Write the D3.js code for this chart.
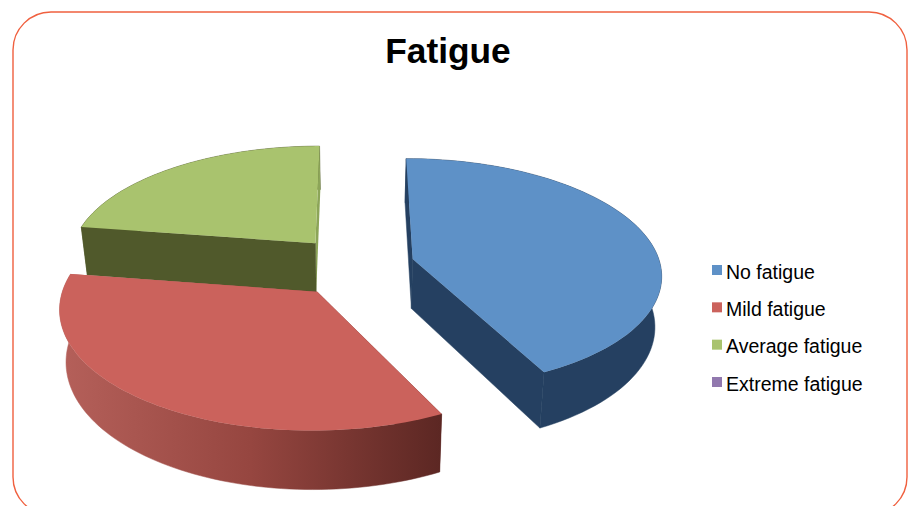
<!DOCTYPE html>
<html>
<head>
<meta charset="utf-8">
<script src="https://cdn.jsdelivr.net/npm/d3@7/dist/d3.min.js"></script>
<style>
  html, body { margin: 0; padding: 0; background: #fff; overflow: hidden; }
  text { font-family: "Liberation Sans", Arial, sans-serif; }
</style>
</head>
<body>
<div id="chart"></div>
<script>
// chart data
var categories = ["No fatigue", "Mild fatigue", "Average fatigue", "Extreme fatigue"];
var values = [42.6, 34.8, 22.6, 0];
var topColors = ["#5e91c7", "#cb625c", "#a9c36e", "#9178ae"];
var wallColors = ["#254061", "url(#redWall)", "#50592b", "#5b4a70"];
var title = "Fatigue";

var width = 909, height = 506;

// pie projection settings
var explodeX = 0.245,
    explodeZ = 0.27,
    persp = 0.125,
    wallHeight = 50,
    bottomShrink = 0.978;

var svg = d3.select("#chart").append("svg")
    .attr("width", width)
    .attr("height", height);

// slide frame
svg.append("rect")
    .attr("x", 13).attr("y", 12)
    .attr("width", 894).attr("height", 503)
    .attr("rx", 38).attr("ry", 38)
    .attr("fill", "none")
    .attr("stroke", "#f0603f")
    .attr("stroke-width", 1.4);

svg.append("text")
    .attr("x", 448).attr("y", 63)
    .attr("text-anchor", "middle")
    .style("font-size", "35.3px")
    .style("font-weight", "bold")
    .attr("fill", "#000")
    .text(title);

// gradient on the red outer wall
var grad = svg.append("defs").append("linearGradient")
    .attr("id", "redWall")
    .attr("gradientUnits", "userSpaceOnUse")
    .attr("x1", 60).attr("y1", 0).attr("x2", 441).attr("y2", 0);
grad.append("stop").attr("offset", "0%").attr("stop-color", "#b5605a");
grad.append("stop").attr("offset", "50%").attr("stop-color", "#964640");
grad.append("stop").attr("offset", "100%").attr("stop-color", "#5c2723");

// scales for the flattened disc, x across and z into the picture
var xScale = d3.scaleLinear().domain([-1, 1]).range([-248, 248]);
var zScale = d3.scaleLinear().domain([-1, 1]).range([114.5, -114.5]);
var cx = 354, cy = 266;

function project(gx, gz, bottom) {
    var f = 1 / (1 + persp * gz);
    var sx = xScale(gx) * f;
    var sy = zScale(gz) * f;
    if (bottom) {
        sx = sx * bottomShrink;
        sy = sy + wallHeight * f;
    }
    return [cx + sx, cy + sy];
}

var pie = d3.pie().sort(null).value(function(d) { return d; });
var slices = pie(values);

var line = d3.line();

function rimPoints(s, bottom) {
    var mid = (s.startAngle + s.endAngle) / 2;
    var ox = explodeX * Math.sin(mid), oz = explodeZ * Math.cos(mid);
    return d3.range(0, 81).map(function(i) {
        var a = s.startAngle + (s.endAngle - s.startAngle) * i / 80;
        return project(ox + Math.sin(a), oz + Math.cos(a), bottom);
    });
}

function apex(s, bottom) {
    var mid = (s.startAngle + s.endAngle) / 2;
    return project(explodeX * Math.sin(mid), explodeZ * Math.cos(mid), bottom);
}

function drawSlice(i) {
    var s = slices[i];
    if (s.value === 0) return;
    var g = svg.append("g").attr("class", "slice");
    var topRim = rimPoints(s, false), botRim = rimPoints(s, true);
    var a = apex(s, false), b = apex(s, true);

    // outer wall
    g.append("path")
        .attr("d", line(topRim.concat(botRim.slice().reverse())) + "Z")
        .attr("fill", wallColors[i])
        .attr("stroke", wallColors[i])
        .attr("stroke-width", 0.5);

    // the two cut faces, the red ones sit behind its top and stay unstroked
    var endFace = i === 2 ? "#8ca558" : wallColors[i];
    var faceStroke = i === 1 ? "none" : wallColors[i];
    g.append("path")
        .attr("d", line([a, topRim[80], botRim[80], b]) + "Z")
        .attr("fill", endFace)
        .attr("stroke", i === 2 ? "none" : faceStroke)
        .attr("stroke-width", 0.5);
    g.append("path")
        .attr("d", line([a, topRim[0], botRim[0], b]) + "Z")
        .attr("fill", wallColors[i])
        .attr("stroke", faceStroke)
        .attr("stroke-width", 0.5);

    // top face
    g.append("path")
        .attr("d", line([a].concat(topRim)) + "Z")
        .attr("fill", topColors[i]);
}

// back to front
[2, 0, 1].forEach(drawSlice);

// legend
var legendY = d3.scalePoint().domain(categories).range([270, 382]);
var legend = svg.append("g").selectAll("g")
    .data(categories)
    .enter().append("g")
    .attr("transform", function(d) { return "translate(712," + legendY(d) + ")"; });

legend.append("rect")
    .attr("x", 0).attr("y", -5)
    .attr("width", 10).attr("height", 10)
    .attr("fill", function(d, i) { return topColors[i]; });

legend.append("text")
    .attr("x", 14).attr("y", 8.5)
    .style("font-size", "19.5px")
    .attr("fill", "#000")
    .text(function(d) { return d; });
</script>
</body>
</html>
